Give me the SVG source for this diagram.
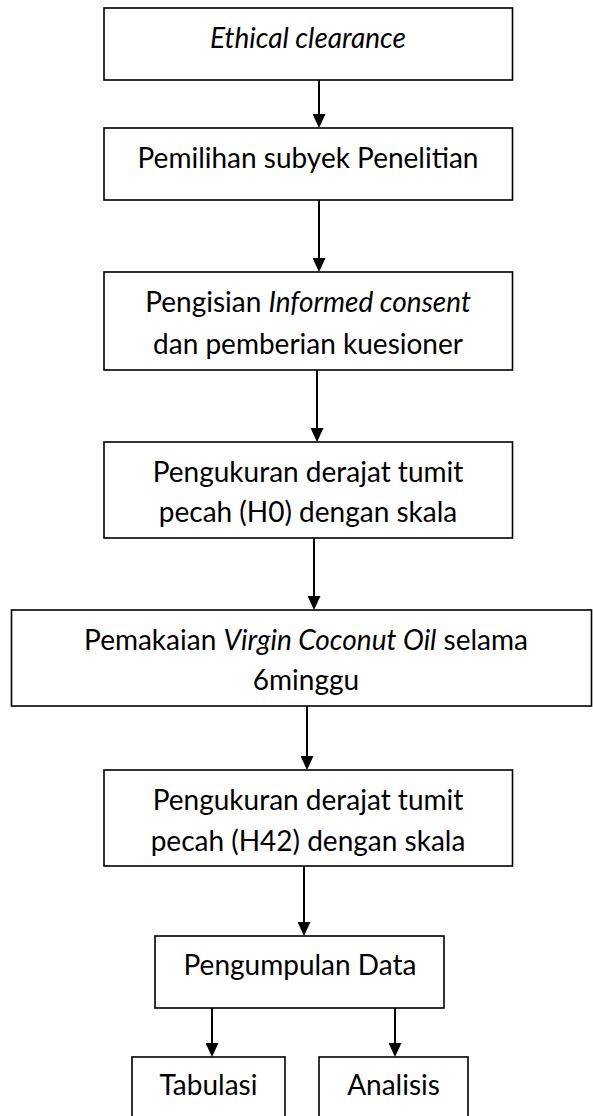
<svg xmlns="http://www.w3.org/2000/svg" width="593" height="1116" viewBox="0 0 593 1116">
<style>
.box{fill:#fff;stroke:#000;stroke-width:1.6}
.t{font-family:Lato,"Open Sans","Liberation Sans",sans-serif;font-size:28px;fill:#000;text-anchor:middle}
.i{font-style:italic}
.c{stroke:#000;stroke-width:2;fill:none}
</style>
<defs>
<marker id="ah" viewBox="0 0 14 13" refX="0" refY="6.5" markerWidth="14" markerHeight="13" markerUnits="userSpaceOnUse" orient="auto">
<path d="M0,0 L14,6.5 L0,13 z" fill="#000"/>
</marker>
</defs>
<rect width="593" height="1116" fill="#fff"/>
<g id="connectors">
<path class="c" d="M319,80 V114" marker-end="url(#ah)"/>
<path class="c" d="M319,200 V258" marker-end="url(#ah)"/>
<path class="c" d="M317,370 V428" marker-end="url(#ah)"/>
<path class="c" d="M314,538 V596" marker-end="url(#ah)"/>
<path class="c" d="M307,706 V756" marker-end="url(#ah)"/>
<path class="c" d="M304,866 V922" marker-end="url(#ah)"/>
<path class="c" d="M212,1008 V1043" marker-end="url(#ah)"/>
<path class="c" d="M395,1008 V1043" marker-end="url(#ah)"/>
</g>
<g id="n1">
<rect class="box" x="104" y="8" width="408.5" height="72"/>
<text class="t i" x="308" y="48">Ethical clearance</text>
</g>
<g id="n2">
<rect class="box" x="104" y="128" width="408.5" height="72"/>
<text class="t" x="308" y="168">Pemilihan subyek Penelitian</text>
</g>
<g id="n3">
<rect class="box" x="104" y="272" width="408.5" height="98"/>
<text class="t" x="308" y="312">Pengisian <tspan class="i">Informed consent</tspan></text>
<text class="t" x="308" y="354">dan pemberian kuesioner</text>
</g>
<g id="n4">
<rect class="box" x="104" y="442" width="408.5" height="96"/>
<text class="t" x="308" y="482">Pengukuran derajat tumit</text>
<text class="t" x="308" y="522">pecah (H0) dengan skala</text>
</g>
<g id="n5">
<rect class="box" x="11.5" y="610" width="580" height="96"/>
<text class="t" x="306" y="650">Pemakaian <tspan class="i">Virgin Coconut Oil</tspan> selama</text>
<text class="t" x="306" y="690">6minggu</text>
</g>
<g id="n6">
<rect class="box" x="104" y="770" width="408.5" height="96"/>
<text class="t" x="308" y="810">Pengukuran derajat tumit</text>
<text class="t" x="308" y="851">pecah (H42) dengan skala</text>
</g>
<g id="n7">
<rect class="box" x="155" y="936" width="289" height="72"/>
<text class="t" x="300" y="975">Pengumpulan Data</text>
</g>
<g id="n8">
<rect class="box" x="132" y="1057" width="153" height="70"/>
<text class="t" x="208.5" y="1095">Tabulasi</text>
</g>
<g id="n9">
<rect class="box" x="319" y="1057" width="149" height="70"/>
<text class="t" x="393.5" y="1095">Analisis</text>
</g>
</svg>
